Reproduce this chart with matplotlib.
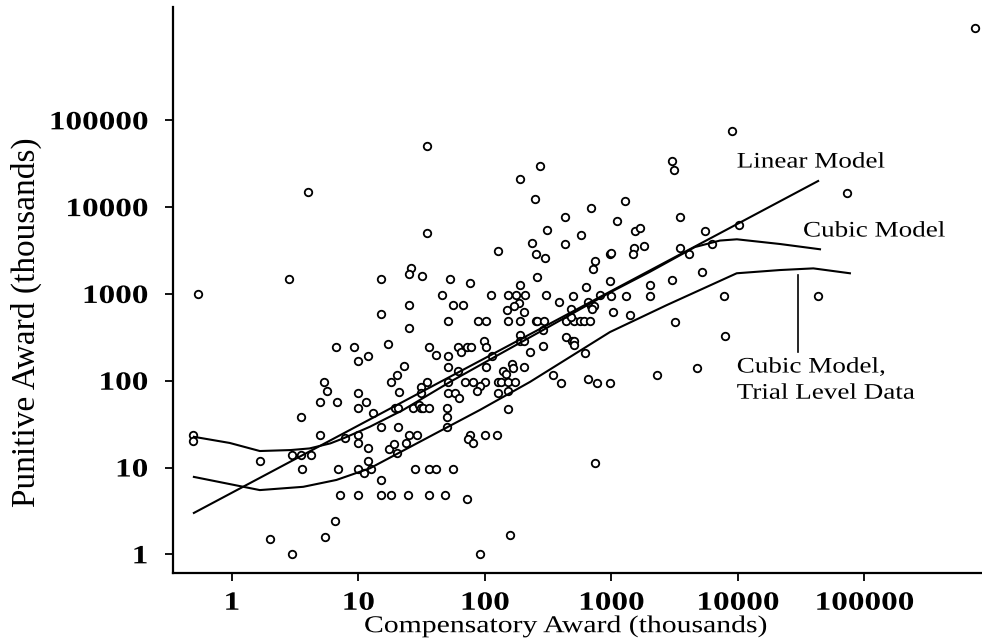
import matplotlib
matplotlib.use("Agg")
import matplotlib.pyplot as plt
from matplotlib.ticker import FixedLocator, FixedFormatter, NullLocator
from matplotlib.patheffects import AbstractPathEffect
from matplotlib.transforms import Affine2D

# ---- data (thousands) ----
comp = [0.49, 0.49, 5.3, 5.6, 5.0, 6.8, 10, 11.5, 10, 3.5, 5.0, 7.8, 10, 10, 12, 1.66, 3.0, 3.5, 4.2, 3.6,
        6.9, 10, 11, 12, 7.1, 10, 6.5, 5.4, 2.0, 3.0,
        4.0, 35, 2.8, 15, 26, 25, 32, 25, 15, 25, 6.6, 9.2, 17, 36, 41, 10, 12, 23, 20,
        35, 0.54,
        18, 31, 31, 35, 51, 69, 81, 100, 92, 86, 127, 135, 153, 173, 153, 126, 51, 58, 62, 21, 13,
        19.5, 20.5, 27, 30, 31, 32.5, 36, 50, 50, 151, 15, 20.5, 17.5, 19, 20, 23.6, 25, 29, 50,
        76, 73, 81, 100, 124, 12.5, 15, 28, 36, 41, 56, 15, 18, 24.5, 36, 48, 72, 158, 91,
        51, 88, 101, 153, 189, 253, 259, 51, 61, 65, 72, 77, 98, 101, 189, 189, 202, 227,
        51, 61, 101, 138, 146, 163, 166, 203,
        270, 189, 250, 690, 430, 310, 570, 234, 427, 126, 253, 297, 745, 718, 970, 258, 53, 76,
        190, 630, 46, 112, 152, 176, 207, 303, 493, 383, 56, 67, 185, 169, 150, 202, 478, 692,
        731, 700, 648, 294, 286, 435, 505, 561, 603, 680, 481, 973, 440, 485, 505, 505, 287,
        614, 113, 345, 656, 400, 768, 973, 745,
        3000, 3100, 1285, 73000, 1110, 3500, 10200, 1540, 1670, 5500, 6200, 1000, 1500, 1490,
        1800, 3480, 4100, 2000, 3000, 5200, 810, 1000, 1300, 2000, 7750, 43000, 1030, 1400,
        3200, 7900, 4700, 2300, 750000, 9000]
punit = [24, 20, 97, 77, 57, 57, 72, 57, 48, 38, 24, 22, 24, 19, 17, 12, 14, 14, 14, 9.6,
         9.6, 9.6, 8.7, 12, 4.8, 4.8, 2.4, 1.6, 1.5, 1.0,
         15000, 5000, 1500, 1500, 2000, 1700, 1600, 750, 580, 400, 245, 245, 265, 245, 200, 170, 195, 148, 118,
         50000, 1000,
         97, 84, 73, 97, 97, 97, 97, 97, 87, 77, 97, 97, 97, 97, 77, 72, 72, 73, 64, 75, 43,
         49, 49, 48, 52, 48, 48, 48, 48, 38, 47.5, 29, 29, 16.5, 18.7, 14.8, 19.3, 24, 24, 29,
         24, 21.5, 19, 24, 24, 9.6, 7.2, 9.6, 9.6, 9.6, 9.6, 4.8, 4.8, 4.8, 4.8, 4.8, 4.3, 1.66, 1.0,
         490, 490, 490, 490, 490, 490, 490, 195, 243, 216, 243, 243, 290, 243, 336, 287, 287, 214,
         145, 129, 145, 130, 119, 155, 141, 143,
         30000, 21000, 12300, 9800, 7700, 5400, 4800, 3900, 3750, 3150, 2900, 2600, 2400, 1940, 2900, 1550, 1470, 1320,
         1270, 1200, 980, 970, 970, 970, 970, 970, 955, 810, 740, 740, 785, 730, 650, 620, 675, 720,
         730, 665, 807, 490, 384, 490, 490, 490, 490, 490, 546, 1420, 316, 287, 287, 258, 251,
         207, 191, 115, 104, 95, 95, 95, 11.4,
         34000, 27000, 11700, 14400, 6900, 7700, 6200, 5350, 5800, 5300, 3800, 2940, 3380, 2880,
         3560, 3380, 2860, 1260, 1430, 1800, 970, 950, 950, 950, 940, 940, 614, 576,
         474, 327, 141, 118, 1150000, 76000]

linear_x = [0.5, 43000]
linear_y = [3.0, 20000]

cubic_x = [0.5, 0.96, 1.66, 2.9, 4.1, 6.0, 7.6, 12.3, 22.5, 53, 131, 272, 973, 2000, 4570, 7200, 9800, 21500, 44500]
cubic_y = [22.6, 19.2, 15.5, 15.9, 16.6, 19, 21.7, 29.5, 46, 97, 203, 367, 1040, 1790, 3470, 4120, 4260, 3760, 3270]

trial_x = [0.5, 1.66, 3.66, 6.7, 12.3, 50, 91, 227, 973, 2730, 9770, 21500, 39400, 76700]
trial_y = [7.8, 5.5, 6.0, 7.2, 9.8, 29, 46, 97, 364, 743, 1730, 1885, 1970, 1730]

pointer_x = [30000, 30000]
pointer_y = [1650, 216]

tick_vals = [1, 10, 100, 1000, 10000, 100000]
tick_labels = ["1", "10", "100", "1000", "10000", "100000"]


class HStretch(AbstractPathEffect):
    """Widen glyphs horizontally (the scanned original is stretched sideways)."""
    def __init__(self, sx, anchor='center'):
        super().__init__()
        self.sx = sx
        self.anchor = anchor

    def draw_path(self, renderer, gc, tpath, affine, rgbFace=None):
        ext = tpath.get_extents()
        if self.anchor == 'center':
            cx = (ext.x0 + ext.x1) / 2
        elif self.anchor == 'right':
            cx = ext.x1
        else:
            cx = 0.0
        t = Affine2D().translate(-cx, 0).scale(self.sx, 1).translate(cx, 0)
        renderer.draw_path(gc, tpath, t + affine, rgbFace)


# ---- figure ----
SERIF = ["Liberation Serif", "DejaVu Serif"]
plt.rcParams['font.family'] = SERIF

fig = plt.figure(figsize=(9.82, 6.38), dpi=100)
ax = fig.add_axes([0.1762, 0.1019, 0.8238, 0.8871])
ax.set_xscale('log')
ax.set_yscale('log')
ax.set_xlim(0.342, 849000)
ax.set_ylim(0.61, 2.02e6)

ax.plot(comp, punit, linestyle='none', marker='o', markersize=5.4,
        markerfacecolor='white', markeredgecolor='black', markeredgewidth=1.3)
lw = 1.5
ax.plot(linear_x, linear_y, color='black', lw=lw)
ax.plot(cubic_x, cubic_y, color='black', lw=lw)
ax.plot(trial_x, trial_y, color='black', lw=lw)
ax.plot(pointer_x, pointer_y, color='black', lw=1.2)

ann_fs = 16
ann_fx = [HStretch(1.22, 'left')]
for (tx, ty, s) in [(9770, 32200, "Linear Model"), (32650, 5165, "Cubic Model"),
                    (9770, 140, "Cubic Model,"), (9770, 70, "Trial Level Data")]:
    t = ax.text(tx, ty, s, fontsize=ann_fs, va='center', ha='left')
    t.set_path_effects(ann_fx)

for s in ['top', 'right']:
    ax.spines[s].set_visible(False)
for s in ['left', 'bottom']:
    ax.spines[s].set_linewidth(1.6)

ax.xaxis.set_major_locator(FixedLocator(tick_vals))
ax.xaxis.set_major_formatter(FixedFormatter(tick_labels))
ax.xaxis.set_minor_locator(NullLocator())
ax.yaxis.set_major_locator(FixedLocator(tick_vals))
ax.yaxis.set_major_formatter(FixedFormatter(tick_labels))
ax.yaxis.set_minor_locator(NullLocator())
ax.tick_params(axis='both', which='major', length=6, width=1.3)
ax.tick_params(axis='x', pad=7.5)
ax.tick_params(axis='y', pad=12)
for lab in ax.get_xticklabels():
    lab.set_fontweight('bold')
    lab.set_fontsize(19)
    lab.set_path_effects([HStretch(1.26, 'center')])
for lab in ax.get_yticklabels():
    lab.set_fontweight('bold')
    lab.set_fontsize(19)
    lab.set_path_effects([HStretch(1.26, 'right')])

xl = ax.set_xlabel("Compensatory Award (thousands)", fontsize=17.4)
xl.set_path_effects([HStretch(1.23, 'center')])
ax.set_ylabel("Punitive Award (thousands)", fontsize=24)
ax.xaxis.set_label_coords(0.485, -0.076)
ax.yaxis.set_label_coords(-0.162, 0.443)

fig.savefig("out.png", dpi=100)
